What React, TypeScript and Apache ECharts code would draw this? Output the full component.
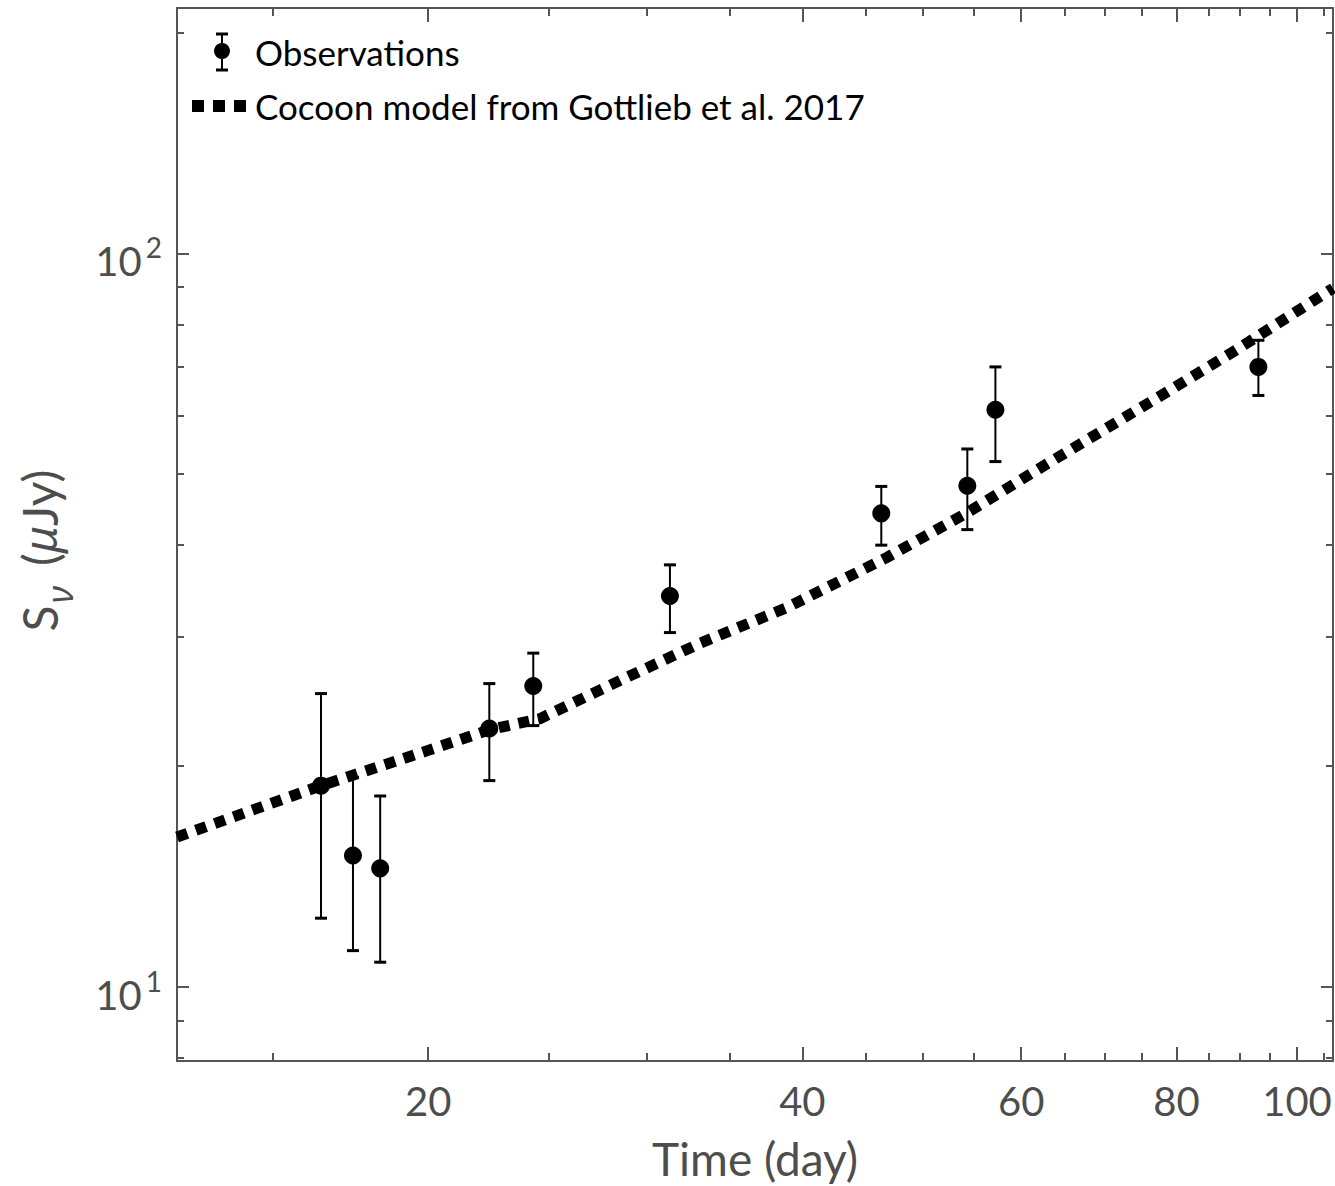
import React, { useEffect, useRef } from "react";
import * as echarts from "echarts";

// Observations (time in days, flux density in microJy)
const obsTime = [16.4, 17.4, 18.3, 22.4, 24.3, 31.3, 46.3, 54.3, 57.2, 93.1];
const obsFlux = [18.8, 15.1, 14.5, 22.5, 25.7, 34.1, 44.2, 48.2, 61.2, 70.0];
const obsHigh = [25.1, 19.3, 18.2, 25.9, 28.5, 37.6, 48.1, 54.1, 70.0, 76.1];
const obsLow = [12.4, 11.2, 10.8, 19.1, 22.7, 30.4, 40.0, 42.0, 52.0, 64.0];

// Cocoon model curve
const modelTime = [12.56, 16.4, 20, 22.4, 24.6, 28.6, 33.1, 38.9, 46.8, 54.3, 62.9, 77.3, 89.2, 106.9];
const modelFlux = [16.0, 18.8, 21.0, 22.4, 23.2, 26.2, 29.4, 32.9, 38.5, 44.3, 51.6, 63.6, 73.7, 89.6];

// Axes
const xRange = [12.56, 106.9];
const yRange = [7.92, 216];
const xMajorTicks = [20, 40, 60, 80, 100];
const xMinorTicks = [15, 25, 30, 35, 45, 50, 55, 65, 70, 75, 85, 90, 95, 105];
const yMajorTicks = [10, 100];
const yMinorTicks = [8, 9, 20, 30, 40, 50, 60, 70, 80, 90, 200];

const L = Math.log10;
const AXIS = "#555555";
const TEXT = "#4d4d4d";
const FONT = "Lato, 'Open Sans', sans-serif";

function xAxisDef(position: "bottom" | "top", ticks: number[], len: number, main: boolean) {
  const labelled = main && position === "bottom";
  return {
    type: "value",
    position,
    min: L(xRange[0]),
    max: L(xRange[1]),
    axisLine: { show: main, onZero: false, lineStyle: { color: AXIS, width: 2 } },
    axisTick: { show: true, inside: true, length: len, customValues: ticks.map(L), lineStyle: { color: AXIS, width: 2 } },
    axisLabel: labelled
      ? {
          show: true,
          customValues: xMajorTicks.map(L),
          formatter: (v: number) => String(Math.round(Math.pow(10, v))),
          color: TEXT,
          fontSize: 40,
          fontFamily: FONT,
          margin: 20,
        }
      : { show: false },
    splitLine: { show: false },
    ...(labelled
      ? {
          name: "Time (day)",
          nameLocation: "middle",
          nameGap: 74,
          nameTextStyle: { color: TEXT, fontSize: 46, fontFamily: FONT },
        }
      : {}),
  };
}

function yAxisDef(position: "left" | "right", ticks: number[], len: number, main: boolean) {
  const labelled = main && position === "left";
  return {
    type: "value",
    position,
    min: L(yRange[0]),
    max: L(yRange[1]),
    axisLine: { show: main, onZero: false, lineStyle: { color: AXIS, width: 2 } },
    axisTick: { show: true, inside: true, length: len, customValues: ticks.map(L), lineStyle: { color: AXIS, width: 2 } },
    axisLabel: labelled
      ? {
          show: true,
          customValues: yMajorTicks.map(L),
          formatter: (v: number) => `{b|10}{s|${Math.round(v)}}`,
          margin: 15,
          padding: [16, 0, 0, 0],
          rich: {
            b: { color: TEXT, fontSize: 40, fontFamily: FONT, lineHeight: 56 },
            s: { color: TEXT, fontSize: 28, fontFamily: FONT, lineHeight: 28, verticalAlign: "top", padding: [0, 0, 0, 4] },
          },
        }
      : { show: false },
    splitLine: { show: false },
    ...(labelled
      ? {
          name: "{n|S}{sub|ν}{n| (}{it|μ}{n|Jy)}",
          nameLocation: "middle",
          nameGap: 100,
          nameTextStyle: {
            padding: [0, 32, 0, 0],
            rich: {
              n: { color: TEXT, fontSize: 48, fontFamily: FONT, lineHeight: 76 },
              sub: { color: TEXT, fontSize: 36, fontFamily: "'Noto Sans', sans-serif", fontStyle: "italic", lineHeight: 36, verticalAlign: "bottom", padding: [0, 8, 0, 2] },
              it: { color: TEXT, fontSize: 46, fontFamily: "'Noto Sans', sans-serif", fontStyle: "italic", lineHeight: 76 },
            },
          },
        }
      : {}),
  };
}

export default function App() {
  const ref = useRef<HTMLDivElement>(null);

  useEffect(() => {
    document.body.style.margin = "0";
    if (!ref.current) return;
    const chart = echarts.init(ref.current, undefined, { renderer: "svg" });

    const legendFont = `35px ${FONT}`;
    const option = {
      animation: false,
      backgroundColor: "#ffffff",
      grid: { left: 177, right: 2, top: 8, bottom: 119, containLabel: false },
      xAxis: [
        xAxisDef("bottom", xMajorTicks, 14, true),
        xAxisDef("bottom", xMinorTicks, 8, false),
        xAxisDef("top", xMajorTicks, 14, true),
        xAxisDef("top", xMinorTicks, 8, false),
      ],
      yAxis: [
        yAxisDef("left", yMajorTicks, 12, true),
        yAxisDef("left", yMinorTicks, 7, false),
        yAxisDef("right", yMajorTicks, 12, true),
        yAxisDef("right", yMinorTicks, 7, false),
      ],
      series: [
        {
          name: "Cocoon model from Gottlieb et al. 2017",
          type: "line",
          xAxisIndex: 0,
          yAxisIndex: 0,
          showSymbol: false,
          symbol: "none",
          data: modelTime.map((t, i) => [L(t), L(modelFlux[i])]),
          lineStyle: { color: "#000", width: 11, type: [11, 9], cap: "butt", join: "miter", opacity: 1 },
          z: 2,
        },
        {
          name: "Observations errors",
          type: "custom",
          xAxisIndex: 0,
          yAxisIndex: 0,
          encode: { x: 0, y: [1, 2] },
          data: obsTime.map((t, i) => [L(t), L(obsLow[i]), L(obsHigh[i])]),
          renderItem: (params: any, api: any) => {
            const x = api.value(0);
            const pLo = api.coord([x, api.value(1)]);
            const pHi = api.coord([x, api.value(2)]);
            const w = 6;
            return {
              type: "group",
              children: [
                { type: "line", shape: { x1: pLo[0], y1: pLo[1], x2: pHi[0], y2: pHi[1] }, style: { stroke: "#000", lineWidth: 2 } },
                { type: "line", shape: { x1: pLo[0] - w, y1: pLo[1], x2: pLo[0] + w, y2: pLo[1] }, style: { stroke: "#000", lineWidth: 3 } },
                { type: "line", shape: { x1: pHi[0] - w, y1: pHi[1], x2: pHi[0] + w, y2: pHi[1] }, style: { stroke: "#000", lineWidth: 3 } },
              ],
            };
          },
          z: 3,
        },
        {
          name: "Observations",
          type: "scatter",
          xAxisIndex: 0,
          yAxisIndex: 0,
          symbol: "circle",
          symbolSize: 18,
          itemStyle: { color: "#000", opacity: 1 },
          data: obsTime.map((t, i) => [L(t), L(obsFlux[i])]),
          z: 4,
        },
      ],
      graphic: [
        { type: "line", shape: { x1: 222, y1: 34, x2: 222, y2: 70 }, style: { stroke: "#000", lineWidth: 2 } },
        { type: "line", shape: { x1: 216, y1: 34, x2: 228, y2: 34 }, style: { stroke: "#000", lineWidth: 3 } },
        { type: "line", shape: { x1: 216, y1: 70, x2: 228, y2: 70 }, style: { stroke: "#000", lineWidth: 3 } },
        { type: "circle", shape: { cx: 222, cy: 51, r: 8 }, style: { fill: "#000" } },
        { type: "text", x: 255, y: 52, style: { text: "Observations", font: legendFont, fill: "#000", verticalAlign: "middle", align: "left" } },
        { type: "rect", shape: { x: 192, y: 100, width: 12, height: 12 }, style: { fill: "#000" } },
        { type: "rect", shape: { x: 213, y: 100, width: 12, height: 12 }, style: { fill: "#000" } },
        { type: "rect", shape: { x: 234, y: 100, width: 12, height: 12 }, style: { fill: "#000" } },
        { type: "text", x: 255, y: 106, style: { text: "Cocoon model from Gottlieb et al. 2017", font: legendFont, fill: "#000", verticalAlign: "middle", align: "left" } },
      ],
    };

    chart.setOption(option as any);
    return () => chart.dispose();
  }, []);

  return <div ref={ref} style={{ width: 1335, height: 1186 }} />;
}
